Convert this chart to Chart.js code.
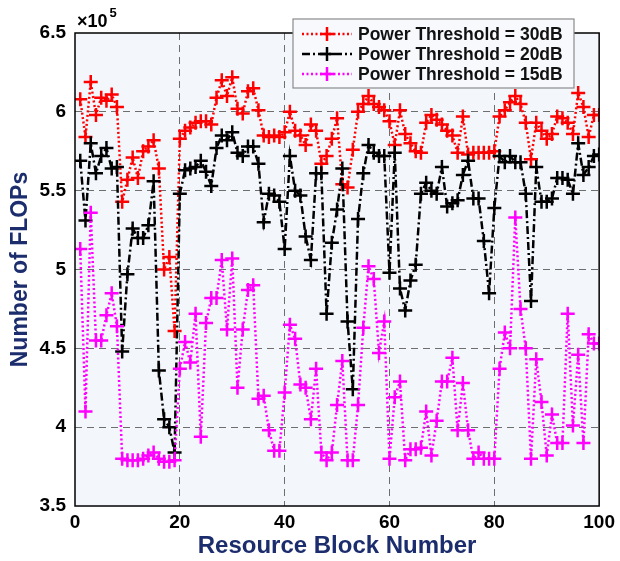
<!DOCTYPE html>
<html>
<head>
<meta charset="utf-8">
<script src="https://cdn.jsdelivr.net/npm/chart.js@4.4.1/dist/chart.umd.min.js"></script>
<style>
html, body { margin: 0; padding: 0; background: #ffffff; }
</style>
</head>
<body>
<canvas id="canvas-flops" width="620" height="561"></canvas>
<script>
// resource block numbers (x axis)
const blocks = Array.from({ length: 100 }, (_, i) => i + 1);

// number of FLOPs, in units of 1e5
const flops30dB = [
    6.08, 5.84, 6.19, 5.98, 6.09, 6.07, 6.11, 6.03, 5.43, 5.57,
    5.71, 5.58, 5.75, 5.78, 5.82, 5.64, 5.00, 5.08, 4.61, 5.83,
    5.88, 5.90, 5.93, 5.94, 5.94, 5.92, 6.09, 6.20, 6.10, 6.22,
    6.02, 5.99, 6.13, 6.15, 6.01, 5.85, 5.84, 5.85, 5.84, 5.87,
    6.00, 5.88, 5.85, 5.79, 5.92, 5.88, 5.67, 5.72, 5.83, 5.96,
    5.54, 5.52, 5.76, 6.00, 6.05, 6.10, 6.05, 6.03, 6.01, 5.94,
    5.79, 6.01, 5.86, 5.80, 5.75, 5.74, 5.93, 5.98, 5.95, 5.92,
    5.88, 5.85, 5.74, 5.97, 5.73, 5.74, 5.74, 5.74, 5.74, 5.75,
    5.97, 6.01, 6.06, 6.10, 6.05, 5.93, 5.70, 5.93, 5.88, 5.83,
    5.86, 5.97, 5.96, 5.93, 5.86, 6.12, 6.03, 5.84, 5.98, 5.98
];
const flops20dB = [
    5.69, 5.31, 5.80, 5.61, 5.72, 5.77, 5.64, 5.65, 4.48, 4.97,
    5.26, 5.20, 5.20, 5.28, 5.56, 4.36, 4.05, 4.00, 3.84, 5.48,
    5.63, 5.64, 5.65, 5.69, 5.62, 5.53, 5.77, 5.85, 5.82, 5.87,
    5.74, 5.72, 5.78, 5.78, 5.67, 5.30, 5.48, 5.47, 5.43, 5.13,
    5.72, 5.50, 5.47, 5.21, 5.06, 5.61, 5.61, 4.72, 5.17, 5.38,
    5.64, 4.67, 4.24, 5.32, 5.61, 5.79, 5.74, 5.72, 5.72, 4.98,
    5.74, 4.88, 4.74, 4.93, 5.03, 5.48, 5.55, 5.50, 5.48, 5.65,
    5.40, 5.42, 5.44, 5.60, 5.69, 5.45, 5.45, 5.18, 4.85, 5.39,
    5.72, 5.68, 5.72, 5.68, 5.68, 5.48, 4.80, 5.65, 5.43, 5.43,
    5.45, 5.58, 5.58, 5.57, 5.48, 5.80, 5.60, 5.65, 5.72, 5.73
];
const flops15dB = [
    5.13, 4.10, 5.36, 4.55, 4.55, 4.71, 4.85, 4.64, 3.80, 3.79,
    3.79, 3.79, 3.80, 3.82, 3.84, 3.80, 3.78, 3.78, 3.79, 4.37,
    4.54, 4.41, 4.72, 3.94, 4.66, 4.82, 4.82, 5.06, 4.62, 5.07,
    4.25, 4.62, 4.87, 4.90, 4.18, 4.20, 3.98, 3.85, 3.85, 4.22,
    4.65, 4.56, 4.27, 4.25, 4.05, 4.37, 3.84, 3.79, 3.84, 4.14,
    4.42, 3.79, 3.79, 4.14, 4.63, 5.02, 4.94, 4.47, 4.67, 3.80,
    4.19, 4.29, 3.79, 3.86, 3.86, 3.87, 4.10, 3.82, 4.04, 4.29,
    4.29, 4.44, 3.98, 4.28, 3.98, 3.80, 3.84, 3.80, 3.80, 3.80,
    4.37, 4.60, 4.50, 5.33, 4.75, 4.50, 3.80, 4.43, 4.16, 3.82,
    4.08, 3.90, 3.90, 4.72, 4.01, 4.46, 3.90, 4.59, 4.53, 4.53
];

const seriesLabels = ['Power Threshold = 30dB', 'Power Threshold = 20dB', 'Power Threshold = 15dB'];
const yTicks = [3.5, 4, 4.5, 5, 5.5, 6, 6.5];
const xTicks = [0, 20, 40, 60, 80, 100];

const navy = '#1c2d6e';
const styles = [
    { color: '#ff0000', dash: [2, 2.5] },
    { color: '#000000', dash: [8, 3, 2, 3] },
    { color: '#ff00ff', dash: [2, 2.5] }
];

Chart.defaults.font.family = 'Arial, "Liberation Sans", Helvetica, sans-serif';

function toPoints(values) {
    return values.map((v, i) => ({ x: blocks[i], y: v }));
}

function makeDataset(label, values, style, order) {
    return {
        label: label,
        data: toPoints(values),
        borderColor: style.color,
        borderWidth: 2.5,
        borderDash: style.dash,
        pointStyle: 'cross',
        pointRadius: 7,
        pointBorderWidth: 2.5,
        pointBorderColor: style.color,
        pointBackgroundColor: style.color,
        tension: 0,
        fill: false,
        order: order
    };
}

// plot background, frame, x10^5 marker and the boxed legend
const figurePlugin = {
    id: 'figure',
    beforeDraw(chart) {
        const a = chart.chartArea;
        const c = chart.ctx;
        c.save();
        c.fillStyle = '#f3f7fc';
        c.fillRect(a.left, a.top, a.right - a.left, a.bottom - a.top);
        c.restore();
    },
    afterDraw(chart) {
        const a = chart.chartArea;
        const c = chart.ctx;
        c.save();
        c.strokeStyle = '#000';
        c.lineWidth = 1.5;
        c.setLineDash([]);
        c.strokeRect(a.left, a.top, a.right - a.left, a.bottom - a.top);

        // exponent label
        c.fillStyle = '#000';
        c.textBaseline = 'alphabetic';
        c.textAlign = 'left';
        c.font = 'bold 18px Arial, "Liberation Sans", sans-serif';
        c.fillText('\u00d710', a.left + 2, a.top - 6);
        const w = c.measureText('\u00d710').width;
        c.font = 'bold 13px Arial, "Liberation Sans", sans-serif';
        c.fillText('5', a.left + 4 + w, a.top - 16);

        // legend
        const lx = 293, ly = 19, lw = 281, lh = 69;
        c.fillStyle = '#f7f9fd';
        c.fillRect(lx, ly, lw, lh);
        c.strokeStyle = '#8a8a8a';
        c.lineWidth = 1.2;
        c.strokeRect(lx, ly, lw, lh);
        const rows = [34, 54, 74];
        for (let i = 0; i < seriesLabels.length; i++) {
            const s = styles[i];
            const y = rows[i];
            c.strokeStyle = s.color;
            c.lineWidth = 2.5;
            c.setLineDash(s.dash);
            c.beginPath();
            c.moveTo(302, y);
            c.lineTo(352, y);
            c.stroke();
            c.setLineDash([]);
            c.beginPath();
            c.moveTo(320, y);
            c.lineTo(334, y);
            c.moveTo(327, y - 7);
            c.lineTo(327, y + 7);
            c.stroke();
            c.fillStyle = '#111';
            c.font = 'bold 17.5px Arial, "Liberation Sans", sans-serif';
            c.textBaseline = 'middle';
            c.fillText(seriesLabels[i], 358, y + 1);
        }
        c.restore();
    }
};

const canvas = document.getElementById('canvas-flops');
const ctx = canvas.getContext('2d');

new Chart(ctx, {
    type: 'line',
    data: {
        datasets: [
            makeDataset(seriesLabels[0], flops30dB, styles[0], 3),
            makeDataset(seriesLabels[1], flops20dB, styles[1], 2),
            makeDataset(seriesLabels[2], flops15dB, styles[2], 1)
        ]
    },
    options: {
        responsive: false,
        animation: false,
        layout: { padding: { top: 33, right: 18, left: 0, bottom: 0 } },
        plugins: {
            legend: { display: false },
            tooltip: { enabled: false }
        },
        scales: {
            x: {
                type: 'linear',
                min: 0,
                max: 100,
                afterBuildTicks: (scale) => { scale.ticks = xTicks.map(v => ({ value: v })); },
                afterFit: (scale) => { scale.height = 55; },
                ticks: {
                    color: '#000',
                    font: { size: 19, weight: 'bold' },
                    padding: 5,
                    maxRotation: 0,
                    callback: (v) => String(v)
                },
                grid: {
                    drawTicks: false,
                    lineWidth: 1,
                    color: (c) => (c.tick && (c.tick.value === 0 || c.tick.value === 100)) ? 'rgba(0,0,0,0)' : '#6e6e6e'
                },
                border: { display: false, dash: [7, 5] },
                title: {
                    display: true,
                    text: 'Resource Block Number',
                    color: navy,
                    font: { size: 24, weight: 'bold' },
                    padding: { top: 0, bottom: 0 }
                }
            },
            y: {
                min: 3.5,
                max: 6.5,
                afterBuildTicks: (scale) => { scale.ticks = yTicks.map(v => ({ value: v })); },
                afterFit: (scale) => { scale.width = 75; },
                ticks: {
                    color: '#000',
                    font: { size: 19, weight: 'bold' },
                    padding: 9,
                    callback: (v) => String(v)
                },
                grid: {
                    drawTicks: false,
                    lineWidth: 1,
                    color: (c) => (c.tick && (c.tick.value === 3.5 || c.tick.value === 6.5)) ? 'rgba(0,0,0,0)' : '#6e6e6e'
                },
                border: { display: false, dash: [7, 5] },
                title: {
                    display: true,
                    text: 'Number of FLOPs',
                    color: navy,
                    font: { size: 23, weight: 'bold' },
                    padding: { top: 7, bottom: 0 }
                }
            }
        }
    },
    plugins: [figurePlugin]
});
</script>
</body>
</html>
